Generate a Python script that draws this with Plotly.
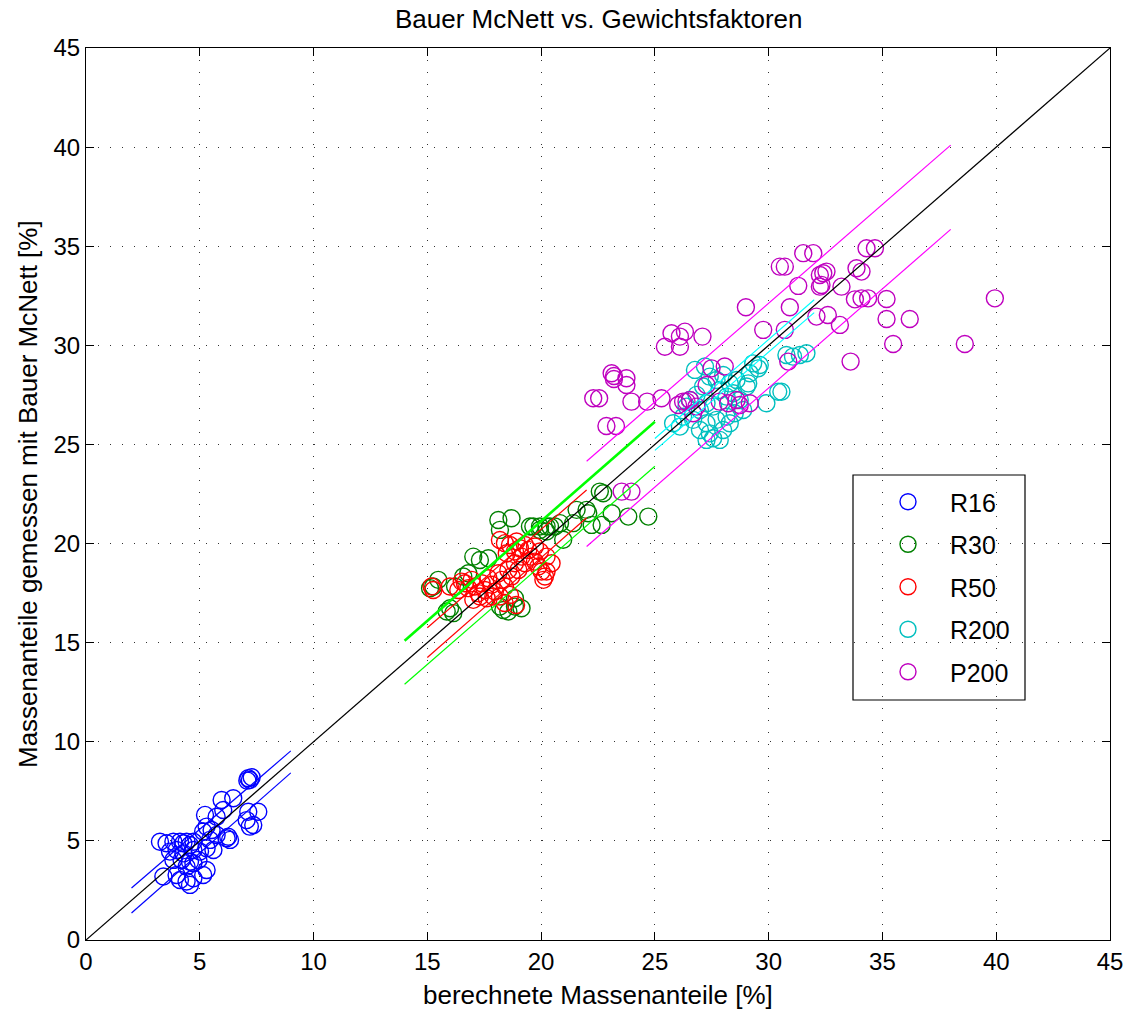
import plotly.graph_objects as go

# ---------------- data ----------------
series_names = ["R16", "R30", "R50", "R200", "P200"]

r16_x = [7.13, 7.20, 7.09, 7.28, 6.47, 5.96, 5.23, 6.03, 5.74, 7.13, 7.57, 7.06, 7.35, 7.20,
         5.30, 5.52, 5.15, 6.25, 6.33, 6.18, 3.25, 3.54, 3.84, 4.13, 4.28, 4.42, 4.57, 4.72,
         3.69, 3.98, 4.28, 4.72, 5.01, 5.30, 5.60, 4.94, 4.57, 4.20, 3.84, 3.40, 3.98, 4.13,
         4.42, 4.72, 4.57, 5.30, 5.15, 4.42, 4.72, 5.45, 5.74]
r16_y = [8.16, 8.07, 8.04, 8.21, 7.15, 7.06, 6.31, 6.56, 6.22, 6.47, 6.47, 6.05, 5.80, 5.72,
         5.72, 5.55, 5.47, 5.21, 5.05, 5.13, 4.96, 4.88, 4.96, 4.96, 4.88, 4.96, 4.79, 4.96,
         4.46, 4.54, 4.37, 4.54, 4.46, 4.63, 4.54, 4.04, 3.95, 4.04, 4.04, 3.20, 3.28, 3.03,
         2.95, 3.11, 2.78, 3.53, 3.28, 3.70, 3.87, 5.05, 5.30]

r30_x = [18.12, 18.70, 18.19, 19.51, 19.95, 20.24, 20.61, 17.02, 17.31, 17.68, 15.26, 15.12,
         15.48, 16.22, 15.85, 16.00, 16.14, 19.14, 18.85, 18.19, 18.34, 18.56, 16.58, 16.80,
         18.85, 22.58, 22.73, 21.56, 22.00, 22.07, 23.10, 23.83, 24.71, 22.22, 22.66, 21.41,
         20.83, 20.39, 19.66, 20.97, 19.95, 20.24]
r30_y = [21.19, 21.28, 20.69, 20.86, 20.86, 20.86, 20.86, 19.34, 19.17, 19.26, 17.83, 17.75,
         18.17, 17.83, 16.57, 16.74, 16.49, 16.74, 16.82, 16.82, 16.65, 16.57, 18.34, 18.50,
         17.24, 22.62, 22.54, 21.70, 21.70, 21.53, 21.53, 21.36, 21.36, 20.94, 20.94, 21.03,
         21.03, 20.86, 20.86, 20.19, 20.69, 20.61]

r50_x = [16.65, 16.80, 16.95, 17.09, 17.24, 17.39, 17.53, 17.68, 17.83, 17.97, 18.12, 18.27,
         18.41, 18.56, 18.70, 18.85, 19.00, 19.14, 19.29, 19.44, 19.58, 19.73, 19.88, 20.02,
         20.17, 18.19, 18.41, 18.63, 18.92, 18.49, 18.85, 19.07, 19.29, 19.73, 19.95, 20.24,
         20.46, 20.24, 20.10, 18.63, 18.19, 17.90, 17.61, 17.31, 17.02, 15.19, 15.26, 15.99,
         16.36, 16.51, 18.90, 18.40]
r50_y = [18.00, 17.75, 18.17, 17.83, 17.50, 18.00, 17.66, 18.25, 17.92, 17.58, 18.50, 18.17,
         17.83, 18.67, 18.34, 19.01, 18.67, 19.34, 19.01, 19.68, 19.34, 19.09, 18.84, 18.59,
         18.34, 20.18, 20.02, 19.93, 20.10, 19.51, 19.60, 19.76, 19.93, 19.85, 19.60, 19.34,
         19.01, 18.59, 18.17, 17.41, 17.33, 17.33, 17.24, 17.33, 17.16, 17.83, 17.66, 17.83,
         17.66, 18.08, 16.90, 17.00]

r200_x = [30.78, 31.07, 31.37, 31.66, 29.61, 29.54, 26.76, 27.20, 29.10, 29.03, 30.56, 30.42,
          29.90, 27.85, 27.56, 27.27, 26.10, 25.80, 26.39, 26.24, 26.68, 26.54, 26.83, 27.12,
          27.41, 27.71, 28.00, 28.29, 28.59, 27.85, 28.15, 28.44, 28.73, 28.88, 28.51, 28.15,
          27.71, 27.27, 26.98, 28.00, 27.41, 28.29, 27.56, 27.27, 26.98, 29.17, 29.32]
r200_y = [29.51, 29.43, 29.51, 29.60, 29.01, 28.84, 28.76, 28.93, 28.08, 27.92, 27.66, 27.66,
          27.08, 25.23, 25.31, 25.23, 25.90, 26.07, 26.91, 26.40, 26.24, 27.24, 27.50, 27.92,
          28.42, 28.25, 28.50, 28.08, 28.25, 27.75, 27.41, 27.58, 27.24, 26.74, 26.57, 26.40,
          26.24, 26.07, 25.73, 25.73, 25.56, 26.07, 26.91, 27.08, 26.74, 28.59, 29.09]

p200_x = [22.29, 22.55, 22.87, 23.29, 23.10, 23.20, 23.20, 23.75, 23.75, 23.97, 24.66, 25.29,
          25.73, 26.32, 26.10, 25.44, 26.10, 27.09, 29.00, 29.76, 30.71, 30.93, 30.49, 30.71,
          31.52, 31.96, 31.30, 32.25, 32.40, 32.54, 32.32, 32.25, 33.20, 32.10, 32.60, 33.13,
          33.86, 34.08, 34.30, 34.67, 33.79, 34.08, 34.37, 35.18, 35.18, 36.20, 35.47, 33.60,
          39.94, 38.62, 30.86, 23.54, 23.97, 27.49, 28.07, 27.27, 26.54, 26.24, 26.83, 27.85,
          28.22, 28.59, 28.73, 29.17, 26.02, 26.39, 26.68]
p200_y = [27.33, 27.33, 25.93, 25.93, 28.59, 28.45, 28.30, 28.34, 28.00, 27.16, 27.16, 27.33,
          30.61, 30.69, 30.44, 29.93, 29.93, 30.44, 31.92, 30.78, 30.78, 31.92, 33.97, 33.97,
          34.65, 34.65, 33.00, 33.55, 33.64, 33.72, 33.05, 32.96, 32.96, 31.45, 31.53, 31.03,
          33.89, 33.72, 34.90, 34.90, 32.32, 32.37, 32.37, 32.34, 31.33, 31.33, 30.07, 29.18,
          32.37, 30.07, 29.18, 22.62, 22.62, 28.84, 28.93, 28.00, 27.24, 27.16, 26.91, 27.16,
          27.08, 27.24, 26.99, 27.08, 26.99, 27.16, 26.57]

# prediction-band lines per series: x range and upper / lower y at both ends
band_x0 = [2.0, 14.0, 15.0, 25.0, 22.0]
band_x1 = [9.0, 25.0, 22.0, 32.0, 38.0]
band_up_y0 = [2.62, 15.10, 15.75, 25.30, 24.15]
band_up_y1 = [9.54, 26.15, 22.70, 32.30, 40.10]
band_lo_y0 = [1.36, 12.90, 14.25, 24.70, 19.85]
band_lo_y1 = [8.43, 23.90, 21.30, 31.65, 35.85]

diag_x = [0, 45]
diag_y = [0, 45]

title_text = "Bauer McNett vs. Gewichtsfaktoren"
xlabel_text = "berechnete Massenanteile [%]"
ylabel_text = "Massenanteile gemessen mit Bauer McNett [%]"

# ---------------- styling ----------------
marker_colors = ["#0000ff", "#008000", "#ff0000", "#00bfbf", "#bf00bf"]
line_colors = ["#0000ff", "#00ff00", "#ff0000", "#00ffff", "#ff00ff"]
up_widths = [1.2, 2.6, 1.2, 1.2, 1.2]
FONT = "Liberation Sans, Arial, Helvetica, sans-serif"

# page body margin is removed in post_script, so the figure fills the window
W, H = 1130, 1010
ML, MR, MT, MB = 86, 20, 48, 70
PW = W - ML - MR
PH = H - MT - MB


def px_x(ax):  # window x -> paper fraction
    return (ax - ML) / PW


def px_y(ay):  # window y -> paper fraction
    return 1 - (ay - MT) / PH


xs = [r16_x, r30_x, r50_x, r200_x, p200_x]
ys = [r16_y, r30_y, r50_y, r200_y, p200_y]

fig = go.Figure()
for i, name in enumerate(series_names):
    fig.add_trace(go.Scatter(
        x=xs[i], y=ys[i], mode="markers", name=name, legendgroup=name,
        marker=dict(symbol="circle-open", size=17, color=marker_colors[i],
                    line=dict(width=1.4, color=marker_colors[i])),
    ))

for i in range(len(series_names)):
    fig.add_trace(go.Scatter(x=[band_x0[i], band_x1[i]], y=[band_up_y0[i], band_up_y1[i]],
                             mode="lines", line=dict(color=line_colors[i], width=up_widths[i]),
                             showlegend=False, hoverinfo="skip"))
    fig.add_trace(go.Scatter(x=[band_x0[i], band_x1[i]], y=[band_lo_y0[i], band_lo_y1[i]],
                             mode="lines", line=dict(color=line_colors[i], width=1.2),
                             showlegend=False, hoverinfo="skip"))

fig.add_trace(go.Scatter(x=diag_x, y=diag_y, mode="lines", line=dict(color="black", width=1.2),
                         showlegend=False, hoverinfo="skip"))

axis_common = dict(
    range=[0, 45], tick0=0, dtick=5, showgrid=True, gridcolor="#333333", gridwidth=1,
    griddash="1px,11px", zeroline=False, showline=True, linecolor="black", linewidth=1,
    mirror="ticks", ticks="inside", ticklen=8, tickcolor="black", automargin=False,
    tickfont=dict(size=24, color="black", family=FONT), ticklabeloverflow="allow",
)

fig.update_layout(
    width=W, height=H,
    margin=dict(l=ML, r=MR, t=MT, b=MB, autoexpand=False),
    paper_bgcolor="white", plot_bgcolor="white",
    font=dict(family=FONT, color="black"),
    xaxis=axis_common, yaxis=axis_common,
    annotations=[
        dict(text=title_text, xref="paper", yref="paper", x=0.5, y=px_y(19),
             xanchor="center", yanchor="middle", showarrow=False,
             font=dict(size=26, color="black", family=FONT)),
        dict(text=xlabel_text, xref="paper", yref="paper", x=0.5, y=px_y(995),
             xanchor="center", yanchor="middle", showarrow=False,
             font=dict(size=26, color="black", family=FONT)),
        dict(text=ylabel_text, xref="paper", yref="paper", x=px_x(28), y=0.5,
             xanchor="center", yanchor="middle", showarrow=False, textangle=-90,
             font=dict(size=26, color="black", family=FONT)),
    ],
    legend=dict(x=px_x(866), y=px_y(479), xanchor="left", yanchor="top",
                bgcolor="rgba(0,0,0,0)", borderwidth=0, tracegroupgap=7,
                itemwidth=74, font=dict(size=25, family=FONT, color="black")),
    shapes=[dict(type="rect", xref="paper", yref="paper",
                 x0=px_x(853), x1=px_x(1025), y0=px_y(700), y1=px_y(475),
                 line=dict(color="black", width=1.2), fillcolor="white", layer="below")],
)

fig.write_html("out.html", config={"displayModeBar": False},
               post_script="document.body.style.margin='0px';")
